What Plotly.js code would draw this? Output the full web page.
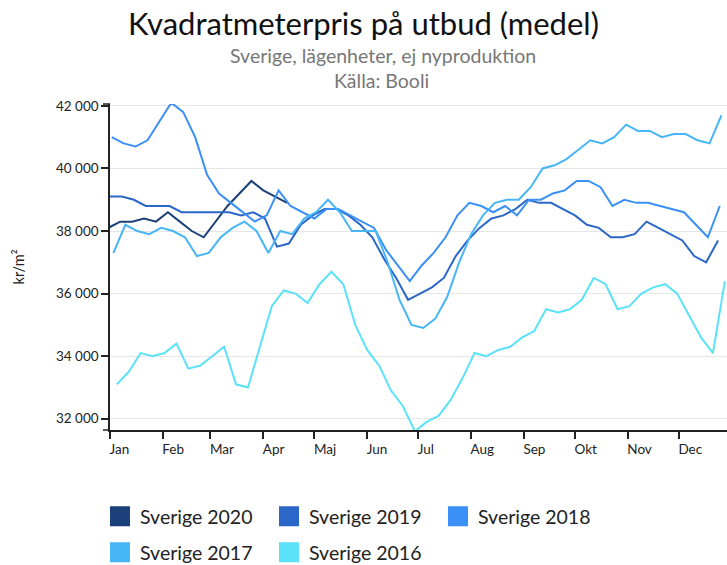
<!DOCTYPE html>
<html>
<head>
<meta charset="utf-8">
<script src="https://cdn.plot.ly/plotly-3.0.1.min.js"></script>
<style>
  html, body { margin: 0; padding: 0; background: #fff; }
  #chart { width: 727px; height: 565px; }
</style>
</head>
<body>
<div id="chart"></div>
<script>
// ---------- data ----------
const monthLabels = ["Jan", "Feb", "Mar", "Apr", "Maj", "Jun", "Jul", "Aug", "Sep", "Okt", "Nov", "Dec"];
const monthStarts = ["2001-01-01", "2001-02-01", "2001-03-01", "2001-04-01", "2001-05-01", "2001-06-01",
                     "2001-07-01", "2001-08-01", "2001-09-01", "2001-10-01", "2001-11-01", "2001-12-01"];

const seriesNames = ["Sverige 2020", "Sverige 2019", "Sverige 2018", "Sverige 2017", "Sverige 2016"];
const seriesColors = ["#1c4079", "#2a67c8", "#3a90f6", "#46b6f7", "#5ce2f8"];
// first week of each year, placed on a common calendar year
const seriesStart = ["2000-12-31", "2001-01-01", "2001-01-02", "2001-01-03", "2001-01-05"];

const sverige2020 = [38100, 38300, 38300, 38400, 38300, 38600, 38300, 38000, 37800, 38300,
                     38800, 39200, 39600, 39300, 39100, 38900];

const sverige2019 = [39100, 39100, 39000, 38800, 38800, 38800, 38600, 38600, 38600, 38600,
                     38600, 38500, 38600, 38400, 37500, 37600, 38200, 38500, 38700, 38700,
                     38500, 38200, 37800, 37100, 36500, 35800, 36000, 36200, 36500, 37200,
                     37700, 38100, 38400, 38500, 38700, 39000, 38900, 38900, 38700, 38500,
                     38200, 38100, 37800, 37800, 37900, 38300, 38100, 37900, 37700, 37200,
                     37000, 37700];

const sverige2018 = [41000, 40800, 40700, 40900, 41500, 42100, 41800, 41000, 39800, 39200,
                     38900, 38600, 38300, 38500, 39300, 38800, 38600, 38400, 38700, 38700,
                     38500, 38300, 38100, 37400, 36900, 36400, 36900, 37300, 37800, 38500,
                     38900, 38800, 38600, 38800, 38500, 39000, 39000, 39200, 39300, 39600,
                     39600, 39400, 38800, 39000, 38900, 38900, 38800, 38700, 38600, 38200,
                     37800, 38800];

const sverige2017 = [37300, 38200, 38000, 37900, 38100, 38000, 37800, 37200, 37300, 37800,
                     38100, 38300, 38000, 37300, 38000, 37900, 38400, 38600, 39000, 38600,
                     38000, 38000, 38000, 37000, 35800, 35000, 34900, 35200, 35900, 37000,
                     37900, 38500, 38900, 39000, 39000, 39400, 40000, 40100, 40300, 40600,
                     40900, 40800, 41000, 41400, 41200, 41200, 41000, 41100, 41100, 40900,
                     40800, 41700];

const sverige2016 = [33100, 33500, 34100, 34000, 34100, 34400, 33600, 33700, 34000, 34300,
                     33100, 33000, 34300, 35600, 36100, 36000, 35700, 36300, 36700, 36300,
                     35000, 34200, 33700, 32900, 32400, 31600, 31900, 32100, 32600, 33300,
                     34100, 34000, 34200, 34300, 34600, 34800, 35500, 35400, 35500, 35800,
                     36500, 36300, 35500, 35600, 36000, 36200, 36300, 36000, 35300, 34600,
                     34100, 36400];

const seriesValues = [sverige2020, sverige2019, sverige2018, sverige2017, sverige2016];

const yTicks = [32000, 34000, 36000, 38000, 40000, 42000];

// ---------- helpers ----------
function weeklyDates(start, n) {
  const p = start.split("-").map(Number);
  const out = [];
  for (let i = 0; i < n; i++) {
    const d = new Date(Date.UTC(p[0], p[1] - 1, p[2] + 7 * i));
    out.push(d.toISOString().slice(0, 10));
  }
  return out;
}

const FONT = "Lato, 'Open Sans', sans-serif";
const traces = [];
seriesValues.forEach((vals, k) => {
  traces.push({
    type: "scatter", mode: "lines",
    x: weeklyDates(seriesStart[k], vals.length), y: vals,
    name: seriesNames[k],
    line: { color: seriesColors[k], width: 2 },
    showlegend: false, hoverinfo: "x+y+name"
  });
});
// legend entries (square swatches)
seriesNames.forEach((nm, k) => {
  traces.push({
    type: "scatter", mode: "markers",
    x: [null], y: [null], name: nm,
    marker: { symbol: "square", size: 16, color: seriesColors[k], line: { color: seriesColors[k], width: 4 } },
    legend: k < 3 ? "legend" : "legend2",
    hoverinfo: "skip"
  });
});

const legendCommon = {
  orientation: "h", xanchor: "left", yanchor: "top",
  font: { family: FONT, size: 19.5, color: "#222" },
  entrywidth: 124, entrywidthmode: "pixels",
  bgcolor: "rgba(0,0,0,0)", borderwidth: 0, itemclick: false, itemdoubleclick: false
};

const layout = {
  width: 727, height: 565,
  margin: { l: 110, r: 0, t: 104, b: 135, autoexpand: false },
  paper_bgcolor: "#fff", plot_bgcolor: "#fff",
  separators: ", ",
  font: { family: FONT, color: "#222" },
  title: {
    text: "Kvadratmeterpris på utbud (medel)",
    font: { family: FONT, size: 31, color: "#111" },
    x: 0.5, xref: "container", xanchor: "center",
    y: 1 - 24 / 565, yref: "container", yanchor: "middle"
  },
  annotations: [
    { text: "Sverige, lägenheter, ej nyproduktion", xref: "paper", yref: "paper",
      x: (383 - 110) / 617, y: (430 - 56) / 326, xanchor: "center", yanchor: "middle",
      showarrow: false, font: { family: FONT, size: 19.5, color: "#777" } },
    { text: "Källa: Booli", xref: "paper", yref: "paper",
      x: (381 - 110) / 617, y: (430 - 80) / 326, xanchor: "center", yanchor: "middle",
      showarrow: false, font: { family: FONT, size: 19.5, color: "#777" } }
  ],
  xaxis: {
    type: "date",
    range: ["2001-01-01", "2001-12-29 06:00"],
    tickmode: "array", tickvals: monthStarts, ticktext: monthLabels,
    ticks: "outside", ticklen: 7, tickwidth: 1.5, tickcolor: "#222",
    ticklabelposition: "outside right", ticklabelshift: -2, ticklabelstandoff: 6,
    tickfont: { family: FONT, size: 13.5, color: "#222" },
    showline: true, linecolor: "#222", linewidth: 1.5,
    showgrid: false, zeroline: false, fixedrange: true
  },
  yaxis: {
    range: [31640, 42060],
    tickmode: "array", tickvals: yTicks, tickformat: ",d",
    ticks: "outside", ticklen: 7, tickwidth: 1.5, tickcolor: "#222",
    tickfont: { family: FONT, size: 13.5, color: "#222" },
    showline: true, linecolor: "#222", linewidth: 1.5,
    showgrid: true, gridcolor: "#e6e6e6", gridwidth: 1.2,
    zeroline: false, fixedrange: true,
    title: { text: "kr/m²", font: { family: FONT, size: 14.5, color: "#222" }, standoff: 28 }
  },
  shapes: [
    { type: "line", xref: "paper", yref: "paper", x0: -7 / 617, x1: 0, y0: 1, y1: 1,
      line: { color: "#222", width: 1.5 } },
    { type: "line", xref: "paper", yref: "paper", x0: -7 / 617, x1: 0, y0: 0, y1: 0,
      line: { color: "#222", width: 1.5 } }
  ],
  legend: Object.assign({}, legendCommon, { x: -10 / 617, y: (430 - 497) / 326 }),
  legend2: Object.assign({}, legendCommon, { x: -10 / 617, y: (430 - 533) / 326 }),
  hovermode: "closest"
};

Plotly.newPlot("chart", traces, layout, { displayModeBar: false, staticPlot: false, responsive: false });
</script>
</body>
</html>
